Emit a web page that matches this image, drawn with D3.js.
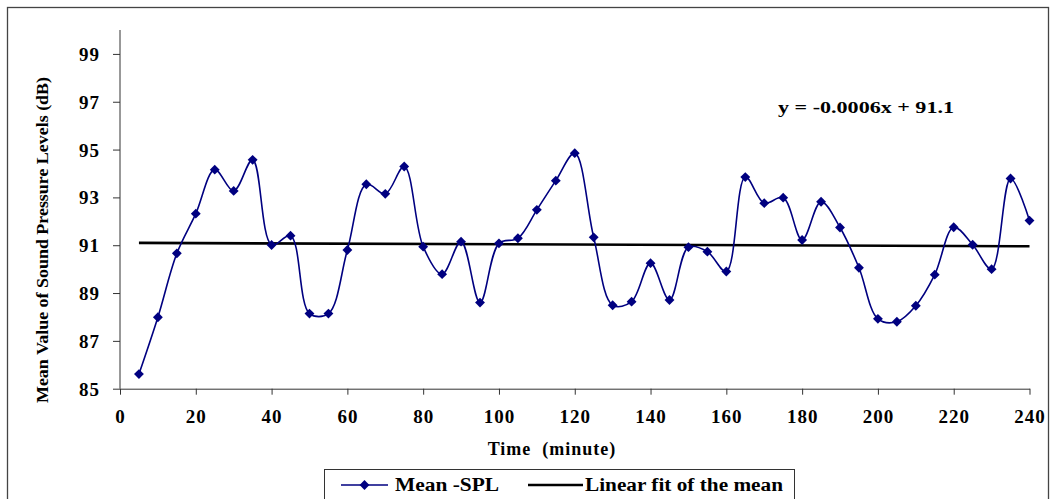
<!DOCTYPE html>
<html>
<head>
<meta charset="utf-8">
<script src="https://cdn.jsdelivr.net/npm/d3@7"></script>
<style>
  body { margin: 0; background: #fff; }
</style>
</head>
<body>
<svg id="chart" width="1050" height="499"></svg>
<script>
// minutes
const times = [5, 10, 15, 20, 25, 30, 35, 40, 45, 50, 55, 60, 65, 70, 75, 80, 85, 90, 95, 100,
    105, 110, 115, 120, 125, 130, 135, 140, 145, 150, 155, 160, 165, 170, 175, 180, 185, 190,
    195, 200, 205, 210, 215, 220, 225, 230, 235, 240];
// mean SPL (dB)
const meanSPL = [85.61, 87.99, 90.66, 92.32, 94.16, 93.27, 94.57, 91.01, 91.40, 88.14, 88.14, 90.80,
    93.55, 93.15, 94.29, 90.94, 89.79, 91.15, 88.60, 91.08, 91.29, 92.48, 93.70, 94.85, 91.33,
    88.49, 88.64, 90.25, 88.71, 90.92, 90.73, 89.90, 93.85, 92.76, 92.99, 91.22, 92.82, 91.74,
    90.06, 87.92, 87.80, 88.47, 89.77, 91.75, 91.02, 90.00, 93.79, 92.03];
// linear fit y = -0.0006x + 91.1, ends of the drawn line
const fitX = [5, 240];
const fitY = [91.097, 90.956];
const xTicks = [0, 20, 40, 60, 80, 100, 120, 140, 160, 180, 200, 220, 240];
const yTicks = [85, 87, 89, 91, 93, 95, 97, 99];
const legendLabels = ["Mean -SPL", "Linear fit of the mean"];
const equationLabel = "y = -0.0006x + 91.1";

const FONT = "'Times New Roman', 'Liberation Serif', 'DejaVu Serif', serif";

const svg = d3.select("#chart");

// outer frame
svg.append("rect")
    .attr("x", 7.5).attr("y", 7.5)
    .attr("width", 1041).attr("height", 520)
    .attr("fill", "none")
    .attr("stroke", "#444")
    .attr("stroke-width", 1.3);

const xScale = d3.scaleLinear().domain([0, 240]).range([120, 1029.5]);
const yScale = d3.scaleLinear().domain([85, 100]).range([388.7, 30]);

// axes
const xAxis = svg.append("g")
    .attr("transform", `translate(0,${yScale(85)})`)
    .call(d3.axisBottom(xScale).tickValues(xTicks).tickSize(6).tickSizeOuter(0).tickPadding(15));
const yAxis = svg.append("g")
    .attr("transform", `translate(${xScale(0)},0)`)
    .call(d3.axisLeft(yScale).tickValues(yTicks).tickSize(7).tickSizeOuter(0).tickPadding(13));

[xAxis, yAxis].forEach(g => {
    g.attr("font-family", FONT).attr("font-size", 19).attr("font-weight", "bold");
    g.select(".domain").attr("stroke", "#333").attr("stroke-width", 1);
    g.selectAll(".tick line").attr("stroke", "#333");
    g.selectAll(".tick text")
        .attr("fill", "#000")
        .attr("letter-spacing", 1);
});
// y-axis top runs up to 100
yAxis.select(".domain").attr("d", `M0,${yScale(100)}V${yScale(85)}`);
xAxis.selectAll(".tick text").attr("dy", "0.71em");
yAxis.selectAll(".tick text").attr("dy", "0.34em");

const textStyle = sel => sel
    .attr("font-family", FONT)
    .attr("font-weight", "bold")
    .attr("fill", "#000");

// axis titles
svg.append("text")
    .call(textStyle)
    .attr("transform", "translate(48,240) rotate(-90)")
    .attr("text-anchor", "middle")
    .attr("font-size", 17)
    .attr("textLength", 326)
    .attr("lengthAdjust", "spacingAndGlyphs")
    .text("Mean Value of Sound Pressure Levels (dB)");

svg.append("text")
    .call(textStyle)
    .attr("x", 552).attr("y", 455)
    .attr("text-anchor", "middle")
    .attr("font-size", 18)
    .attr("letter-spacing", 1)
    .style("white-space", "pre")
    .text("Time  (minute)");

// linear fit
const points = times.map((t, i) => ({ x: t, y: meanSPL[i] }));
const fitPoints = fitX.map((t, i) => ({ x: t, y: fitY[i] }));

const lineGen = d3.line()
    .x(d => xScale(d.x))
    .y(d => yScale(d.y));

svg.append("path")
    .datum(fitPoints)
    .attr("d", lineGen)
    .attr("fill", "none")
    .attr("stroke", "#000")
    .attr("stroke-width", 2.6);

// mean SPL smoothed line
svg.append("path")
    .datum(points)
    .attr("d", lineGen.curve(d3.curveCatmullRom.alpha(0.5)))
    .attr("fill", "none")
    .attr("stroke", "#000080")
    .attr("stroke-width", 1.6);

const diamond = d3.symbol().type(d3.symbolDiamond2).size(62);

svg.selectAll("path.marker")
    .data(points)
    .enter()
    .append("path")
    .attr("class", "marker")
    .attr("transform", d => `translate(${xScale(d.x)},${yScale(d.y)})`)
    .attr("d", diamond)
    .attr("fill", "#000080");

// equation
svg.append("text")
    .call(textStyle)
    .attr("x", 778).attr("y", 113)
    .attr("font-size", 17.5)
    .attr("textLength", 176)
    .attr("lengthAdjust", "spacingAndGlyphs")
    .text(equationLabel);

// legend
const legend = svg.append("g");
legend.append("rect")
    .attr("x", 324.5).attr("y", 469.5)
    .attr("width", 470).attr("height", 40)
    .attr("fill", "#fff")
    .attr("stroke", "#333")
    .attr("stroke-width", 1);

legend.append("line")
    .attr("x1", 341).attr("x2", 388).attr("y1", 485).attr("y2", 485)
    .attr("stroke", "#000080").attr("stroke-width", 1.6);
legend.append("path")
    .attr("transform", "translate(364.5,485)")
    .attr("d", diamond)
    .attr("fill", "#000080");
legend.append("text")
    .call(textStyle)
    .attr("x", 395).attr("y", 491)
    .attr("font-size", 18)
    .attr("textLength", 104)
    .attr("lengthAdjust", "spacingAndGlyphs")
    .text(legendLabels[0]);

legend.append("line")
    .attr("x1", 528).attr("x2", 583).attr("y1", 485).attr("y2", 485)
    .attr("stroke", "#000").attr("stroke-width", 2.6);
legend.append("text")
    .call(textStyle)
    .attr("x", 585).attr("y", 491)
    .attr("font-size", 18)
    .attr("textLength", 198)
    .attr("lengthAdjust", "spacingAndGlyphs")
    .text(legendLabels[1]);
</script>
</body>
</html>
